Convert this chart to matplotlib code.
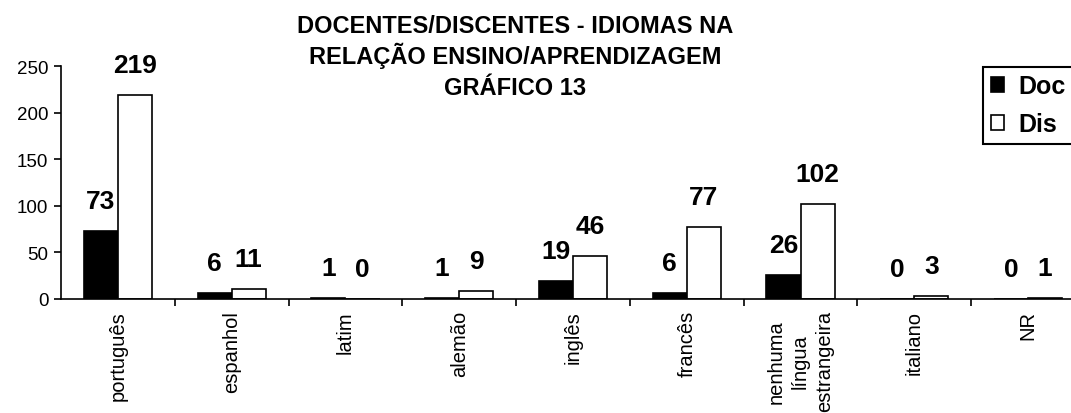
import numpy as np
import matplotlib.pyplot as plt

plt.rcParams['font.family'] = ['Liberation Sans', 'DejaVu Sans']

# dados
categorias = ["português", "espanhol", "latim", "alemão", "inglês", "francês",
              "nenhuma\nlíngua\nestrangeira", "italiano", "NR"]
doc = [73, 6, 1, 1, 19, 6, 26, 0, 0]
dis = [219, 11, 0, 9, 46, 77, 102, 3, 1]
titulo = ["DOCENTES/DISCENTES - IDIOMAS NA", "RELAÇÃO ENSINO/APRENDIZAGEM", "GRÁFICO 13"]

fig = plt.figure(figsize=(10.71, 4.14), dpi=100)
ax = fig.add_axes([61/1071, 114/414, 1024/1071, 233/414])

x = np.arange(len(categorias))
w = 0.3
b1 = ax.bar(x - w/2, doc, w, color='black', edgecolor='black', linewidth=1.2, label='Doc')
b2 = ax.bar(x + w/2, dis, w, color='white', edgecolor='black', linewidth=1.2, label='Dis')

# rótulos de valor
for bars, vals in ((b1, doc), (b2, dis)):
    for r, v in zip(bars, vals):
        ax.annotate(str(v), (r.get_x() + r.get_width()/2, r.get_height()),
                    xytext=(0, 13), textcoords='offset points',
                    ha='center', va='bottom', fontsize=19, fontweight='bold')

ax.set_xlim(-0.5, len(categorias) - 0.5)
ax.set_ylim(0, 250)
ax.set_yticks(range(0, 251, 50))
ax.tick_params(axis='y', labelsize=13.5, direction='out', length=5, width=1.2, pad=4)

# ticks nas divisas (estilo Excel), rótulos no centro
ax.set_xticks(np.arange(0.5, len(categorias) - 0.5, 1))
ax.set_xticklabels([])
ax.tick_params(axis='x', which='major', direction='out', length=5, width=1.2)
ax.set_xticks(x, minor=True)
ax.set_xticklabels(categorias, minor=True, rotation=90, fontsize=14.5,
                   ha='center', va='top', multialignment='center', linespacing=1.35)
ax.tick_params(axis='x', which='minor', length=0, pad=8)

for s in ('top', 'right'):
    ax.spines[s].set_visible(False)
ax.spines['left'].set_linewidth(1.2)
ax.spines['bottom'].set_linewidth(1.2)

# título em três linhas, cada uma na sua altura
for linha, base in zip(titulo, (33, 64, 95)):
    fig.text(515/1071, 1 - base/414, linha, ha='center', va='baseline',
             fontsize=17, fontweight='bold')

leg = fig.legend(handles=[b1, b2], loc='upper left', bbox_to_anchor=(983/1071, 1 - 68/414),
                 borderaxespad=0, fancybox=False, edgecolor='black', framealpha=1,
                 prop={'size': 18, 'weight': 'bold'}, handlelength=0.55, handleheight=0.55,
                 handletextpad=0.55, borderpad=0.3, labelspacing=0.55)
leg.get_frame().set_linewidth(1.5)

fig.savefig('out.png', dpi=100)
